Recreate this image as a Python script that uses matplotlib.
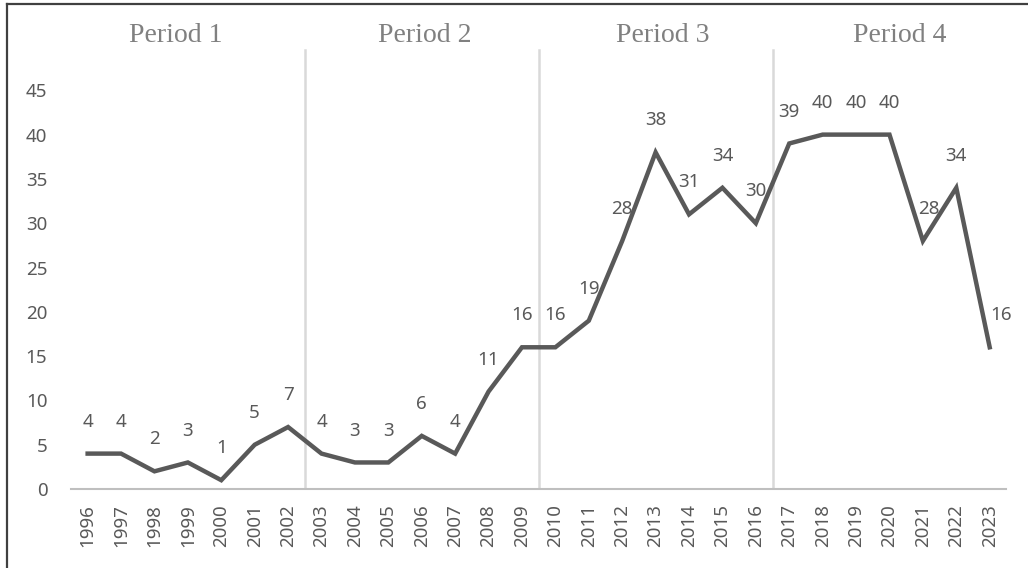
import matplotlib
matplotlib.use("Agg")
import matplotlib.pyplot as plt
from matplotlib.lines import Line2D
from matplotlib.transforms import blended_transform_factory

# ---------------- data ----------------
years = list(range(1996, 2024))
counts = [4, 4, 2, 3, 1, 5, 7, 4, 3, 3, 6, 4, 11, 16,
          16, 19, 28, 38, 31, 34, 30, 39, 40, 40, 40, 28, 34, 16]
period_names = ["Period 1", "Period 2", "Period 3", "Period 4"]
period_first_years = [2003, 2010, 2017]
y_ticks = [0, 5, 10, 15, 20, 25, 30, 35, 40, 45]

# ---------------- style ----------------
plt.rcParams["font.family"] = ["Noto Sans", "DejaVu Sans"]
TXT = "#595959"
LINE = "#595959"

fig = plt.figure(figsize=(10.28, 5.68), dpi=100)
ax = fig.add_axes([0.069, 0.139, 0.910, 0.780])

x = list(range(len(years)))
ax.plot(x, counts, color=LINE, lw=3.2, solid_joinstyle="miter", zorder=3)

# data labels (a couple nudged like the original)
dx = {2021: 4, 2023: 8}
for i, (yr, v) in enumerate(zip(years, counts)):
    ax.annotate(str(v), (i, v), textcoords="offset points",
                xytext=(dx.get(yr, 0), 23), ha="center", va="center",
                fontsize=13.5, color=TXT, zorder=4)

# period separators
for fy in period_first_years:
    ax.axvline(years.index(fy) - 0.5, ymin=0, ymax=0.992,
               color="#d9d9d9", lw=1.8, zorder=1)

ax.set_xlim(-0.5, len(years) - 0.5)
ax.set_ylim(0, 50)
ax.set_xticks(x)
ax.set_xticklabels([str(y) for y in years], rotation=90)
ax.set_yticks(y_ticks)
ax.tick_params(axis="both", length=0, colors=TXT, labelsize=13.5)
ax.tick_params(axis="y", pad=17)
ax.tick_params(axis="x", pad=11)

for s in ["top", "right", "left"]:
    ax.spines[s].set_visible(False)
ax.spines["bottom"].set_color("#bfbfbf")
ax.spines["bottom"].set_linewidth(1.5)

# period titles
period_x = [2.63, 10.1, 17.2, 24.3]
tr = blended_transform_factory(ax.transData, fig.transFigure)
for name, px in zip(period_names, period_x):
    ax.text(px, 0.938, name, transform=tr, ha="center", va="center",
            fontsize=20, color="#808080", family="Liberation Serif")

# outer frame (only top and left edges show in the original)
fig.add_artist(Line2D([7 / 1028, 1], [1 - 4 / 568, 1 - 4 / 568],
                      transform=fig.transFigure, color="#404040", lw=1.6))
fig.add_artist(Line2D([7 / 1028, 7 / 1028], [0, 1 - 4 / 568],
                      transform=fig.transFigure, color="#404040", lw=1.6))

fig.savefig("out.png", dpi=100)
